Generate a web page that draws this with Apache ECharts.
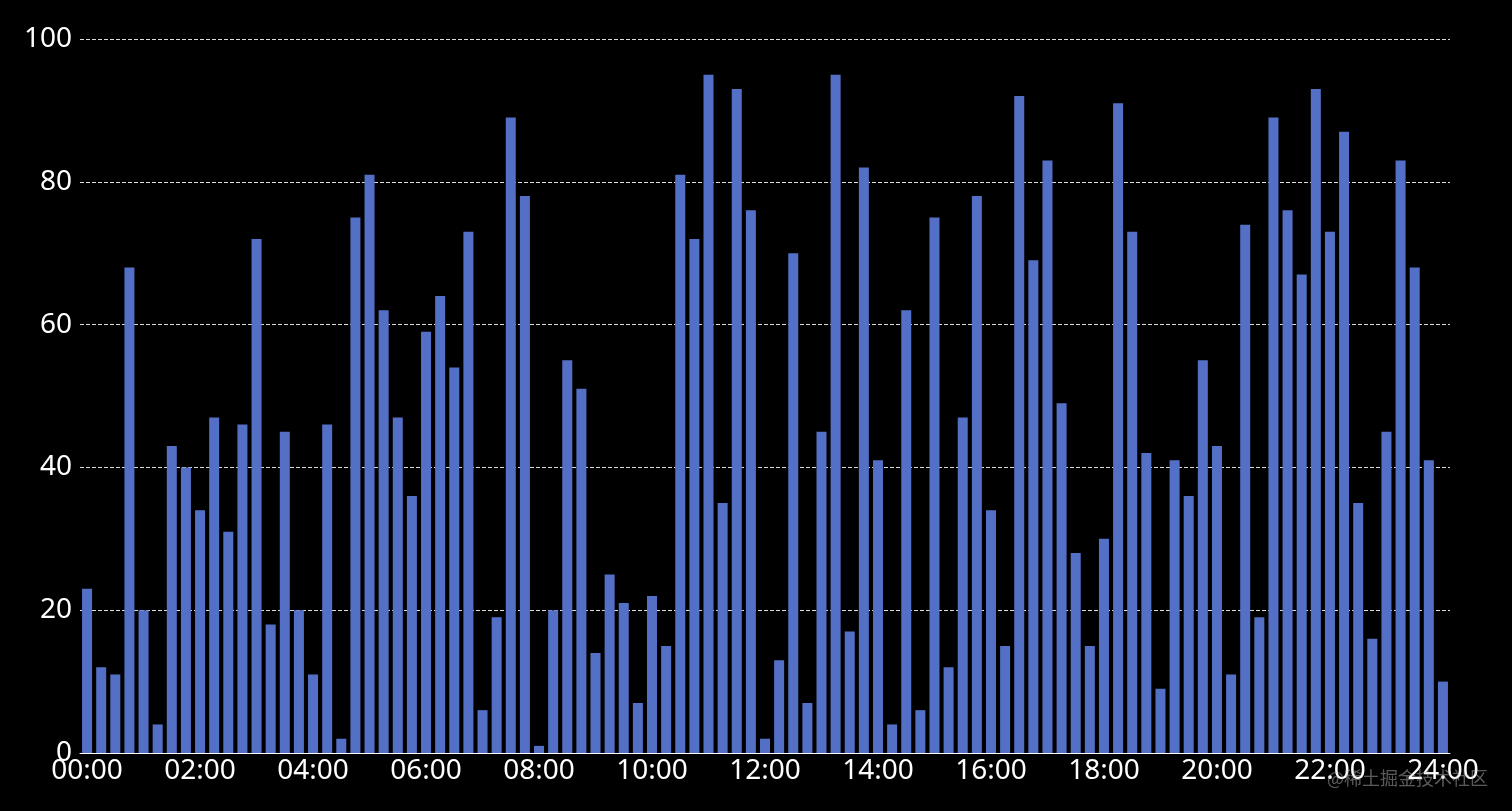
<!DOCTYPE html>
<html>
<head>
<meta charset="utf-8">
<script src="https://cdn.jsdelivr.net/npm/echarts@6/dist/echarts.min.js"></script>
<style>
html,body{margin:0;padding:0;background:#000;}
#main{width:1512px;height:811px;}
</style>
</head>
<body>
<div id="main"></div>
<script>
// categories: every 15 minutes from 00:00 to 24:00
const categories = [];
for (let h = 0; h <= 24; h++) {
  for (let m = 0; m < 60; m += 15) {
    if (h === 24 && m > 0) break;
    categories.push(String(h).padStart(2, '0') + ':' + String(m).padStart(2, '0'));
  }
}
const values = [
  23, 12, 11, 68, 20, 4, 43, 40, 34, 47, 31, 46, 72, 18, 45, 20,
  11, 46, 2, 75, 81, 62, 47, 36, 59, 64, 54, 73, 6, 19, 89, 78,
  1, 20, 55, 51, 14, 25, 21, 7, 22, 15, 81, 72, 95, 35, 93, 76,
  2, 13, 70, 7, 45, 95, 17, 82, 41, 4, 62, 6, 75, 12, 47, 78,
  34, 15, 92, 69, 83, 49, 28, 15, 30, 91, 73, 42, 9, 41, 36, 55,
  43, 11, 74, 19, 89, 76, 67, 93, 73, 87, 35, 16, 45, 83, 68, 41,
  10
];
const yTicks = [0, 20, 40, 60, 80, 100];
const watermark = '@稀土掘金技术社区';

const chart = echarts.init(document.getElementById('main'));
chart.setOption({
  backgroundColor: '#000',
  animation: false,
  textStyle: { fontFamily: 'Noto Sans' },
  grid: { left: 80, right: 62, top: 39, bottom: 58, containLabel: false },
  xAxis: {
    type: 'category',
    data: categories,
    boundaryGap: true,
    axisLine: { show: true, lineStyle: { color: '#ffffff', width: 1 } },
    axisTick: { show: false },
    axisLabel: {
      color: '#ffffff',
      fontSize: 28,
      margin: 4,
      interval: 7
    },
    splitLine: { show: false }
  },
  yAxis: {
    type: 'value',
    min: yTicks[0],
    max: yTicks[yTicks.length - 1],
    interval: 20,
    axisLine: { show: false },
    axisTick: { show: false },
    axisLabel: { color: '#ffffff', fontSize: 28, margin: 8 },
    splitLine: { show: true, lineStyle: { color: '#dddddd', type: 'dashed', width: 1 } }
  },
  series: [{
    type: 'bar',
    data: values,
    barWidth: 10,
    itemStyle: { color: '#5470c6' }
  }],
  graphic: [{
    type: 'text',
    right: 24,
    bottom: 24,
    style: {
      text: watermark,
      fill: 'rgba(200,200,200,0.45)',
      fontSize: 18,
      fontFamily: 'Noto Sans CJK SC'
    },
    z: 100
  }]
});
</script>
</body>
</html>
